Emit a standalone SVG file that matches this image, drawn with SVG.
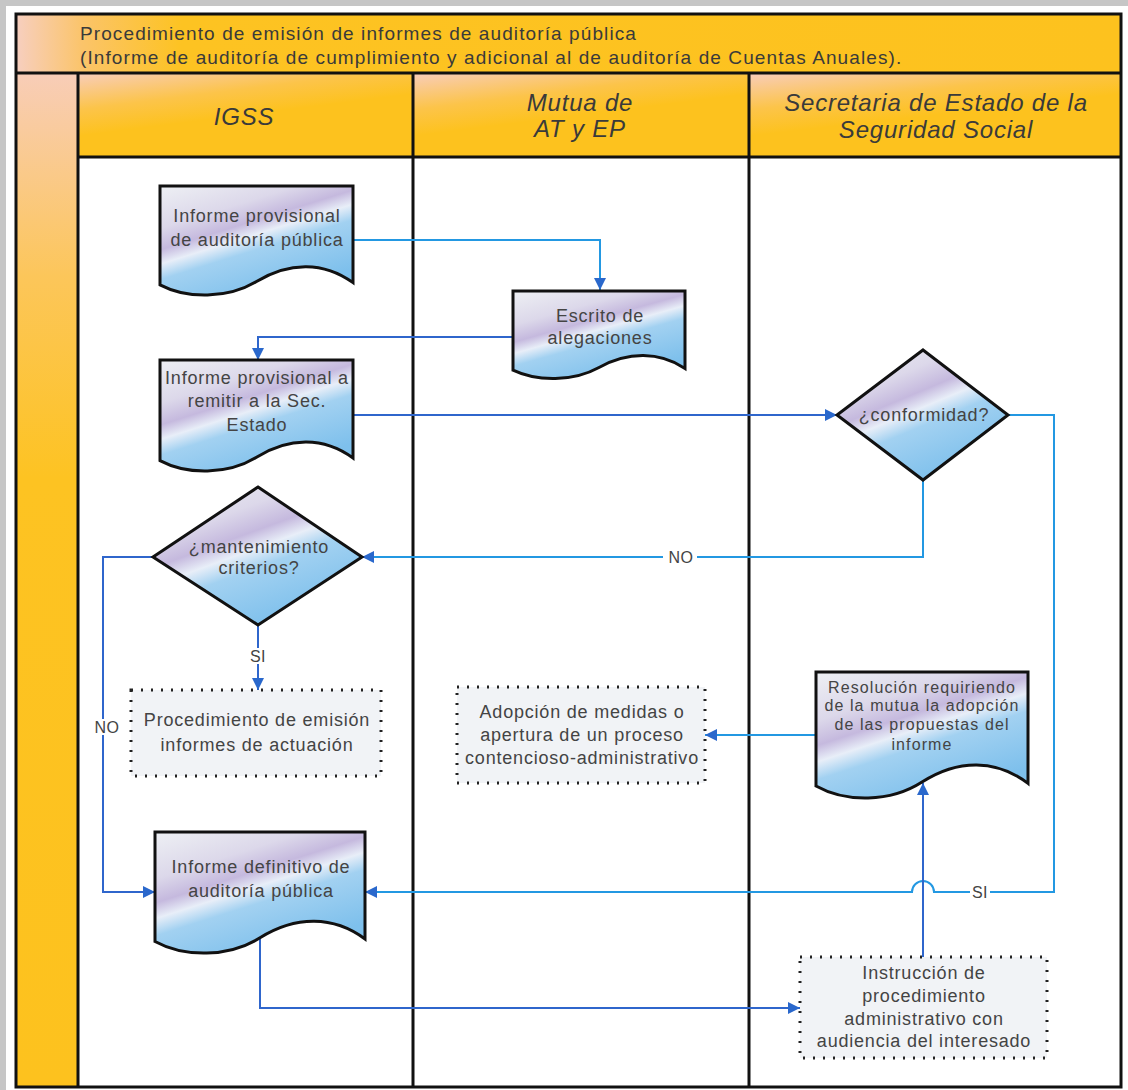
<svg xmlns="http://www.w3.org/2000/svg" width="1128" height="1090" viewBox="0 0 1128 1090">
<defs>
<linearGradient id="band" x1="0" y1="0" x2="1" y2="0">
<stop offset="0" stop-color="#f7cfc0"/><stop offset="0.06" stop-color="#fbc46a"/><stop offset="0.15" stop-color="#fdc322"/><stop offset="1" stop-color="#fdc21e"/>
</linearGradient>
<linearGradient id="hdr" x1="0" y1="0" x2="0.5" y2="1">
<stop offset="0" stop-color="#f8cdbc"/><stop offset="0.35" stop-color="#fcc44a"/><stop offset="0.6" stop-color="#fdc21e"/><stop offset="1" stop-color="#fdc21e"/>
</linearGradient>
<linearGradient id="strip" x1="0" y1="0" x2="0" y2="1">
<stop offset="0" stop-color="#f8cdb8"/><stop offset="0.2" stop-color="#fcc65a"/><stop offset="0.4" stop-color="#fdc322"/><stop offset="1" stop-color="#fdc21e"/>
</linearGradient>
<linearGradient id="docfill" x1="0" y1="0" x2="0.55" y2="1">
<stop offset="0" stop-color="#eef0f4"/><stop offset="0.3" stop-color="#dcd8ea"/><stop offset="0.45" stop-color="#c5b9de"/><stop offset="0.55" stop-color="#e8eef8"/><stop offset="0.66" stop-color="#a2d1f1"/><stop offset="1" stop-color="#7ec0ec"/>
</linearGradient>
<marker id="ah" viewBox="0 0 12 12" refX="12" refY="6" markerWidth="12" markerHeight="12" markerUnits="userSpaceOnUse" orient="auto">
<path d="M0,0 L12,6 L0,12 Z" fill="#2a68cc"/>
</marker>
<style>
.frame{fill:none;stroke:#111;stroke-width:3}
.doc{fill:url(#docfill);stroke:#111;stroke-width:3;stroke-linejoin:miter}
.dot{fill:#f1f3f6;stroke:#222;stroke-width:3;stroke-dasharray:2 8;stroke-linecap:butt}
.t{font-family:"Liberation Sans",Arial,sans-serif;font-size:18px;letter-spacing:0.8px;fill:#444;text-anchor:middle}
.ts{font-family:"Liberation Sans",Arial,sans-serif;font-size:16px;letter-spacing:1.1px;fill:#444;text-anchor:middle}
.h{font-family:"Liberation Sans",Arial,sans-serif;font-size:24px;letter-spacing:0.8px;font-style:italic;fill:#3a3a3a;text-anchor:middle}
.title{font-family:"Liberation Sans",Arial,sans-serif;font-size:19px;letter-spacing:1.1px;fill:#3a3a3a}
.c{fill:none;stroke:#2f66cc;stroke-width:2}
.cl{fill:none;stroke:#2398e2;stroke-width:2}
.lbl{font-family:"Liberation Sans",Arial,sans-serif;font-size:16px;letter-spacing:0.5px;fill:#444;text-anchor:middle}
</style>
</defs>
<rect x="0" y="0" width="1128" height="1090" fill="#ffffff"/>
<rect x="3" y="3" width="1130" height="1100" fill="none" stroke="#c6c6c6" stroke-width="6"/>

<g id="pool">
<rect x="16" y="14" width="1105" height="59" fill="url(#band)"/>
<rect x="16" y="73" width="62" height="1014" fill="url(#strip)"/>
<rect x="78" y="73" width="335" height="84" fill="url(#hdr)"/>
<rect x="413" y="73" width="336" height="84" fill="url(#hdr)"/>
<rect x="749" y="73" width="372" height="84" fill="url(#hdr)"/>
<rect x="16" y="14" width="1105" height="1073" class="frame"/>
<line x1="16" y1="73" x2="1121" y2="73" class="frame"/>
<line x1="78" y1="157" x2="1121" y2="157" class="frame"/>
<line x1="78" y1="73" x2="78" y2="1087" class="frame"/>
<line x1="413" y1="73" x2="413" y2="1087" class="frame"/>
<line x1="749" y1="73" x2="749" y2="1087" class="frame"/>
<text class="title" x="80" y="40">Procedimiento de emisión de informes de auditoría pública</text>
<text class="title" x="80" y="64">(Informe de auditoría de cumplimiento y adicional al de auditoría de Cuentas Anuales).</text>
<text class="h" x="244" y="125">IGSS</text>
<text class="h" x="580" y="111">Mutua de</text>
<text class="h" x="580" y="137">AT y EP</text>
<text class="h" x="936" y="111">Secretaria de Estado de la</text>
<text class="h" x="936" y="138">Seguridad Social</text>
</g>

<g id="connectors">
<path class="cl" d="M353,240 H600 V290" marker-end="url(#ah)"/>
<path class="c" d="M513,337 H258 V360" marker-end="url(#ah)"/>
<path class="c" d="M353,415 H837" marker-end="url(#ah)"/>
<path class="cl" d="M923,480 V557 H362" marker-end="url(#ah)"/>
<path class="c" d="M258,625 V690" marker-end="url(#ah)"/>
<path class="c" d="M153,557 H103 V892 H155" marker-end="url(#ah)"/>
<path class="cl" d="M1008,415 H1054 V892 H934 A11,11 0 0 0 912,892 H365" marker-end="url(#ah)"/>
<path class="cl" d="M816,735 H705" marker-end="url(#ah)"/>
<path class="c" d="M260,938 V1008 H800" marker-end="url(#ah)"/>
<path class="c" d="M923,957 V783" marker-end="url(#ah)"/>
<rect x="663" y="549" width="34" height="16" fill="#fff"/>
<text class="lbl" x="681" y="563">NO</text>
<rect x="249" y="648" width="18" height="16" fill="#fff"/>
<text class="lbl" x="258" y="662">SI</text>
<rect x="89" y="719" width="34" height="16" fill="#fff"/>
<text class="lbl" x="107" y="733">NO</text>
<rect x="970" y="884" width="20" height="16" fill="#fff"/>
<text class="lbl" x="980" y="898">SI</text>
</g>

<g id="n1">
<path class="doc" d="M160,186 H353 V282.6 C324,261.5 289,261.5 256.5,281.5 C227.5,299 187,299 160,284.8 Z"/>
<text class="t" x="257" y="222">Informe provisional</text>
<text class="t" x="257" y="246">de auditoría pública</text>
</g>

<g id="n2">
<path class="doc" d="M513,291 H685 V368.4 C659.2,351.5 628.2,351.5 599,367.5 C573.2,381.8 537.1,381.8 513,370.2 Z"/>
<text class="t" x="600" y="322">Escrito de</text>
<text class="t" x="600" y="344">alegaciones</text>
</g>

<g id="n3">
<path class="doc" d="M160,360 H353 V458 C324,436.8 289.3,436.8 256.5,457.2 C227.5,475 187,475 160,460.6 Z"/>
<text class="t" x="257" y="384">Informe provisional a</text>
<text class="t" x="257" y="407">remitir a la Sec.</text>
<text class="t" x="257" y="431">Estado</text>
</g>

<g id="n4">
<path class="doc" d="M923,350 L1008,415 L923,480 L837,415 Z"/>
<text class="t" x="924" y="421">¿conformidad?</text>
</g>

<g id="n5">
<path class="doc" d="M258,487 L362,557 L258,625 L153,557 Z"/>
<text class="t" x="259" y="553">¿mantenimiento</text>
<text class="t" x="259" y="574">criterios?</text>
</g>

<g id="n6">
<rect class="dot" x="131" y="690" width="250" height="86"/>
<text class="t" x="257" y="726">Procedimiento de emisión</text>
<text class="t" x="257" y="751">informes de actuación</text>
</g>

<g id="n7">
<rect class="dot" x="457" y="687" width="248" height="96"/>
<text class="t" x="582" y="718">Adopción de medidas o</text>
<text class="t" x="582" y="741">apertura de un proceso</text>
<text class="t" x="582" y="764">contencioso-administrativo</text>
</g>

<g id="n8">
<path class="doc" d="M816,672 H1028 V783.4 C996.2,759 958,759 922,782 C890.2,802.6 845.7,802.6 816,786 Z"/>
<text class="ts" x="922" y="693">Resolución requiriendo</text>
<text class="ts" x="922" y="711">de la mutua la adopción</text>
<text class="ts" x="922" y="730">de las propuestas del</text>
<text class="ts" x="922" y="750">informe</text>
</g>

<g id="n9">
<path class="doc" d="M155,832 H365 V939 C333.5,915.6 295.7,915.6 260,937.8 C228.5,957.5 184.4,957.5 155,941.5 Z"/>
<text class="t" x="261" y="873">Informe definitivo de</text>
<text class="t" x="261" y="897">auditoría pública</text>
</g>

<g id="n10">
<rect class="dot" x="800" y="957" width="247" height="101"/>
<text class="t" x="924" y="979">Instrucción de</text>
<text class="t" x="924" y="1002">procedimiento</text>
<text class="t" x="924" y="1025">administrativo con</text>
<text class="t" x="924" y="1047">audiencia del interesado</text>
</g>
</svg>
